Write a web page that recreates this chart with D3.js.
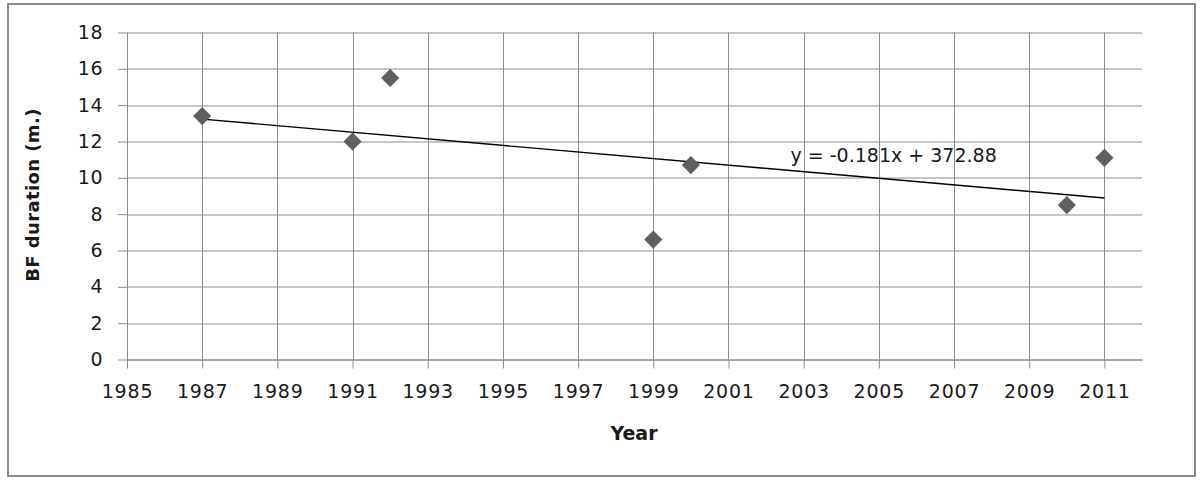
<!DOCTYPE html>
<html>
<head>
<meta charset="utf-8">
<script src="https://cdn.jsdelivr.net/npm/d3@7"></script>
<style>
  body { margin: 0; background: #fff; }
  svg text { font-family: "DejaVu Sans", sans-serif; fill: #1a1a1a; }
</style>
</head>
<body>
<script>
// data
const years = [1987, 1991, 1992, 1999, 2000, 2010, 2011];
const bfDuration = [13.4, 12.0, 15.5, 6.6, 10.7, 8.5, 11.1];
const xTicks = [1985, 1987, 1989, 1991, 1993, 1995, 1997, 1999, 2001, 2003, 2005, 2007, 2009, 2011];
const yTicks = [0, 2, 4, 6, 8, 10, 12, 14, 16, 18];
const trendSlope = -0.181, trendIntercept = 372.88;
const trendLabel = "y = -0.181x + 372.88";

const W = 1200, H = 480;
const margin = { top: 32.5, right: 58, bottom: 120.5, left: 127 };
const width = W - margin.left - margin.right;
const height = H - margin.top - margin.bottom;

const root = d3.select("body").append("svg")
    .attr("width", W)
    .attr("height", H);

// outer frame
root.append("rect")
    .attr("x", 8).attr("y", 4)
    .attr("width", 1187).attr("height", 472)
    .attr("fill", "none")
    .attr("stroke", "#8a8a8a")
    .attr("stroke-width", 2);

const svg = root.append("g")
    .attr("transform", "translate(" + margin.left + "," + margin.top + ")");

var xScale = d3.scaleLinear().domain([1985, 2012]).range([0, width]);
var yScale = d3.scaleLinear().domain([0, 18]).range([height, 0]);

// gridlines
svg.append("g").selectAll("line").data(yTicks).join("line")
    .attr("x1", 0).attr("x2", width)
    .attr("y1", d => Math.round(yScale(d)) + 0.5)
    .attr("y2", d => Math.round(yScale(d)) + 0.5)
    .attr("stroke", "#8c8c8c");
svg.append("g").selectAll("line").data(xTicks).join("line")
    .attr("x1", d => Math.round(xScale(d)) + 0.5)
    .attr("x2", d => Math.round(xScale(d)) + 0.5)
    .attr("y1", 0).attr("y2", height)
    .attr("stroke", "#8c8c8c");

// axes
let xAxis = d3.axisBottom(xScale).tickValues(xTicks).tickFormat(d3.format("d"))
    .tickSizeInner(9).tickSizeOuter(0).tickPadding(16);
let yAxis = d3.axisLeft(yScale).tickValues(yTicks)
    .tickSizeInner(9).tickSizeOuter(0).tickPadding(15);

const gx = svg.append("g")
    .attr("transform", "translate(0," + height + ")")
    .call(xAxis);
const gy = svg.append("g").call(yAxis);

[gx, gy].forEach(g => {
    g.select(".domain").attr("stroke", "#8c8c8c");
    g.selectAll(".tick line").attr("stroke", "#8c8c8c");
    g.selectAll(".tick text")
        .attr("font-size", "19px")
        .attr("font-family", "DejaVu Sans, sans-serif")
        .attr("fill", "#1a1a1a");
});
gx.selectAll(".tick text").attr("letter-spacing", "0.8px");
gy.selectAll(".tick text").attr("letter-spacing", "0.5px");

// trend line over the data range
const trend = [d3.min(years), d3.max(years)].map(x => [x, trendSlope * x + trendIntercept]);
svg.append("line")
    .attr("x1", xScale(trend[0][0])).attr("y1", yScale(trend[0][1]))
    .attr("x2", xScale(trend[1][0])).attr("y2", yScale(trend[1][1]))
    .attr("stroke", "#000")
    .attr("stroke-width", 1.4);

// points
const pts = years.map((y, i) => ({ year: y, v: bfDuration[i] }));
svg.selectAll(".pt").data(pts).join("path")
    .attr("class", "pt")
    .attr("d", d3.symbol(d3.symbolDiamond2, 210))
    .attr("transform", d => "translate(" + xScale(d.year) + "," + yScale(d.v) + ")")
    .attr("fill", "#5f5f5f");

// equation label
svg.append("text")
    .attr("x", xScale(2002.65))
    .attr("y", yScale(10.85))
    .attr("font-size", "19px")
    .text(trendLabel);

// axis titles
root.append("text")
    .attr("transform", "translate(39,195) rotate(-90)")
    .attr("text-anchor", "middle")
    .attr("font-size", "18px")
    .attr("font-weight", "bold")
    .attr("letter-spacing", "0.4px")
    .text("BF duration (m.)");

root.append("text")
    .attr("x", 634)
    .attr("y", 440)
    .attr("text-anchor", "middle")
    .attr("font-size", "19px")
    .attr("font-weight", "bold")
    .text("Year");
</script>
</body>
</html>
